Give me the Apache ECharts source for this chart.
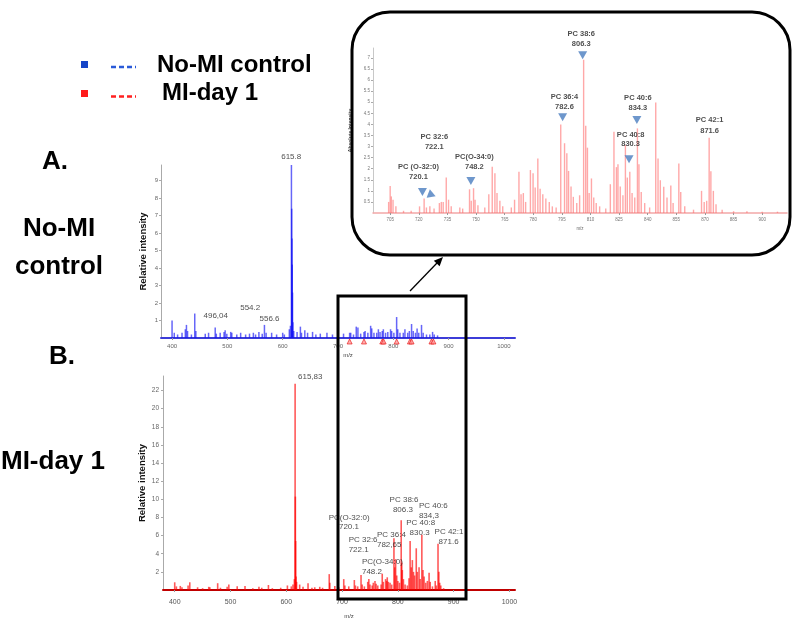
<!DOCTYPE html>
<html><head><meta charset="utf-8">
<script src="https://cdn.jsdelivr.net/npm/echarts@6/dist/echarts.min.js"></script>
<style>html,body{margin:0;padding:0;background:#fff}#c{width:800px;height:622px}</style>
</head><body><div id="c"></div>
<script>
// ---------- DATA ----------
const xTicksMain = [400, 500, 600, 700, 800, 900, 1000];
const yTicksTop = [1, 2, 3, 4, 5, 6, 7, 8, 9];
const yTicksBottom = [2, 4, 6, 8, 10, 12, 14, 16, 18, 20, 22];
const xTicksInset = [705, 720, 735, 750, 765, 780, 795, 810, 825, 840, 855, 870, 885, 900];
const yTicksInset = [0.5, 1, 1.5, 2, 2.5, 3, 3.5, 4, 4.5, 5, 5.5, 6, 6.5, 7];

// A. No-MI control spectrum [m/z, relative intensity]
const controlPeaks = [
  [400,1.0],[404,0.3],[410,0.2],[418,0.3],[424,0.5],[426,0.75],[428,0.4],[435,0.2],[441,1.4],[443,0.4],
  [460,0.25],[466,0.3],[478,0.6],[480,0.25],[487,0.3],[494,0.35],[496,0.45],[499,0.25],[506,0.35],[508,0.3],
  [517,0.2],[524,0.3],[533,0.2],[540,0.25],[547,0.3],[551,0.2],[557,0.35],[563,0.25],[567,0.75],[570,0.3],
  [580,0.3],[589,0.2],[600,0.3],[603,0.2],[612,0.5],[614,0.7],[615.8,9.9],[616.3,7.4],[616.8,5.7],[617.3,4.2],
  [617.8,2.6],[618.5,0.9],[620,0.4],[626,0.35],[632,0.65],[634,0.3],[640,0.45],[645,0.3],[654,0.35],[660,0.2],
  [668,0.25],[680,0.3],[690,0.2],[700,0.2],[710,0.25],[721,0.3],[723,0.3],[728,0.2],[733,0.65],[736,0.6],
  [741,0.25],[747,0.35],[749,0.4],[754,0.3],[759,0.7],[761,0.55],[765,0.3],[770,0.3],[773,0.5],[776,0.35],
  [780,0.4],[782,0.5],[786,0.3],[790,0.35],[795,0.5],[797,0.4],[801,0.3],[806,1.2],[808,0.5],[812,0.3],
  [818,0.3],[821,0.5],[826,0.3],[829,0.4],[833,0.8],[836,0.4],[840,0.3],[843,0.55],[846,0.3],[851,0.75],
  [854,0.3],[860,0.2],[866,0.2],[871,0.35],[874,0.2],[880,0.15]
];
const controlMarkers = [[721,-0.2],[747,-0.2],[780,-0.2],[782.5,-0.2],[806,-0.2],[830,-0.2],[833,-0.2],[869,-0.2],[872.5,-0.2]];
const controlLabels = [
  [598.2,10.36,'615.8'],[457.7,1.22,'496,04'],[524.1,1.70,'554.2'],[559.0,1.07,'556.6']
];

// B. MI-day 1 spectrum
const miPeaks = [
  [400,0.85],[403,0.4],[410,0.45],[413,0.3],[424,0.5],[427,0.85],[441,0.3],[450,0.2],[461,0.35],[463,0.3],
  [477,0.75],[482,0.25],[494,0.35],[497,0.6],[512,0.4],[526,0.45],[540,0.2],[551,0.35],[556,0.25],[568,0.55],
  [575,0.2],[590,0.25],[602,0.5],[609,0.4],[612,0.6],[614.5,1.2],[615.83,22.75],[616.3,10.3],[616.8,5.4],[617.5,1.5],
  [618.5,0.9],[624,0.6],[630,0.35],[639,0.75],[646,0.25],[651,0.3],[660,0.35],[665,0.25],[677,1.75],[678,0.8],
  [687,0.45],[694,0.3],[703,1.2],[705,0.5],[712,0.4],[722,1.1],[724,0.5],[728,0.4],[734,1.65],[736,0.6],
  [740,0.4],[746,0.9],[748,1.2],[750,0.6],[754,0.5],[756,0.8],[759,1.0],[761,0.7],[764,0.5],[770,0.6],
  [772,1.8],[774,0.9],[778,1.2],[780,1.0],[781,1.4],[783,0.9],[786,0.8],[789,0.6],[793,5.7],[794.5,2.5],
  [796,3.4],[798,1.6],[800,1.0],[803,0.8],[806,7.7],[807,3.0],[808,2.2],[810,1.2],[813,0.6],[817,0.5],
  [820,1.3],[822,5.4],[824,2.5],[826,3.3],[828,2.0],[830,1.6],[833,4.6],[835,2.0],[838,2.5],[840,1.2],
  [843,6.1],[845,2.2],[847,1.5],[850,0.8],[853,1.0],[856,1.9],[858,0.9],[862,0.4],[867,1.0],[869,0.5],
  [872,5.1],[873.5,2.0],[875,0.8],[877,0.5],[882,0.2]
];
const miLabels = [
  [621.9,23.49,'615,83'],
  [676.9,7.96,'PC(O-32:0)'],[695.3,6.86,'720.1'],
  [712.7,5.51,'PC 32:6'],[712.7,4.41,'722.1'],
  [736.5,3.01,'PC(O-34:0)'],[736.5,1.95,'748.2'],
  [763.4,6.06,'PC 36:4'],[763.4,4.96,'782,65'],
  [786.1,9.91,'PC 38:6'],[792.0,8.81,'806.3'],
  [816.0,7.34,'PC 40:8'],[821.9,6.24,'830.3'],
  [838.6,9.25,'PC 40:6'],[838.6,8.15,'834,3'],
  [866.7,6.36,'PC 42:1'],[873.9,5.26,'871.6']
];

// Inset (zoom of MI-day 1, 700-900 m/z), absolute intensity
const insetPeaks = [
  [704.2,0.5],[705,1.22],[705.6,0.75],[706.5,0.6],[708,0.3],[712,0.1],[716,0.1],
  [720.4,0.3],[722.8,0.65],[724,0.25],[725.8,0.3],[728,0.2],[730.8,0.45],[731.8,0.5],[732.8,0.5],
  [734.4,1.6],[735.6,0.6],[737,0.3],[741.5,0.25],[743,0.2],[746.6,1.07],[747.5,0.55],[748.7,1.12],
  [749.5,0.6],[751,0.35],[754.6,0.25],[756.7,0.85],[758.5,2.09],[759.9,1.8],[761,0.9],[762.5,0.55],
  [764,0.3],[768.5,0.25],[770.2,0.6],[772.5,1.86],[773.6,0.85],[774.8,0.9],[776,0.5],[778.5,1.94],
  [779.9,1.8],[781,1.15],[782.4,2.46],[783.6,1.1],[785,0.85],[786.6,0.65],[788.4,0.5],[790,0.3],
  [792,0.25],[794.4,4.0],[796.4,3.15],[797.6,2.7],[798.5,1.9],[799.8,1.2],[801,0.73],[802.8,0.45],
  [804.3,0.8],[806.4,6.92],[807.5,3.94],[808.4,2.95],[809.3,0.9],[810.5,1.56],[811.7,0.7],[813,0.45],
  [814.8,0.3],[818,0.2],[820.4,1.3],[822.3,3.67],[823.6,2.07],[824.4,2.2],[825.6,1.2],[827,0.8],
  [828.3,3.07],[829.3,1.6],[830.6,1.86],[831.8,0.9],[833.2,0.7],[834.6,3.82],[835.4,2.2],[836.6,0.95],
  [838.4,0.45],[841,0.25],[844.2,4.99],[845.4,2.46],[846.6,1.48],[848.4,1.18],[850.1,0.7],[852.1,1.24],
  [853.3,0.45],[856.3,2.24],[857.3,0.95],[859.4,0.3],[864,0.15],[868.2,1.0],[869.6,0.5],[870.9,0.55],
  [872.2,3.4],[873.1,1.88],[874.4,1.0],[875.8,0.4],[879,0.15],[885,0.08],[892,0.08],[900,0.06],[908,0.06]
];
const insetArrows = [
  [721.9,0.95,180],[725.7,0.80,130],[747.3,1.45,180],[795.4,4.32,180],[805.9,7.12,180],[830.2,2.43,180],[834.3,4.20,180]
];
const insetLabels = [
  [720.1,2.04,'PC (O-32:0)'],[720.1,1.59,'720.1'],
  [728.4,3.43,'PC 32:6'],[728.4,2.98,'722.1'],
  [749.4,2.49,'PC(O-34:0)'],[749.4,2.04,'748.2'],
  [796.6,5.23,'PC 36:4'],[796.6,4.78,'782.6'],
  [805.4,8.06,'PC 38:6'],[805.4,7.63,'806.3'],
  [835.1,5.17,'PC 40:6'],[835.1,4.71,'834.3'],
  [831.3,3.52,'PC 40:8'],[831.3,3.10,'830.3'],
  [872.7,4.16,'PC 42:1'],[872.7,3.70,'871.6']
];

// ---------- CHART ----------
const FONT = '"Liberation Sans", Arial, sans-serif';
const plain = v => String(v);
const chart = echarts.init(document.getElementById('c'), null, {renderer: 'canvas'});

function xAx(grid, min, max, ticks, opt) {
  return Object.assign({
    type: 'value', gridIndex: grid, min: min, max: max,
    splitLine: {show: false},
    axisLine: {show: true, onZero: false, lineStyle: {color: '#888', width: 1}},
    axisTick: {show: true, customValues: ticks, length: 2, lineStyle: {color: '#999'}},
    axisLabel: {customValues: ticks, formatter: plain, fontSize: 6, color: '#666', fontFamily: FONT, margin: 5},
    nameLocation: 'middle', name: 'm/z',
    nameTextStyle: {fontSize: 6, color: '#444', fontFamily: FONT}
  }, opt);
}
function yAx(grid, max, ticks, opt) {
  return Object.assign({
    type: 'value', gridIndex: grid, min: 0, max: max,
    splitLine: {show: false},
    axisLine: {show: true, lineStyle: {color: '#aaa', width: 1}},
    axisTick: {show: true, customValues: ticks, length: 2, lineStyle: {color: '#aaa'}},
    axisLabel: {customValues: ticks, formatter: plain, fontSize: 6, color: '#666', fontFamily: FONT, margin: 3},
    nameLocation: 'middle', name: 'Relative intensity',
    nameTextStyle: {fontSize: 9.5, fontWeight: 'bold', color: '#111', fontFamily: FONT}
  }, opt);
}
function barSeries(i, data, color, w) {
  return {type: 'bar', xAxisIndex: i, yAxisIndex: i, data: data, barWidth: w,
    itemStyle: {color: color}, silent: true, animation: false, barGap: '-100%'};
}
function labelSeries(i, data, style, align) {
  return {type: 'scatter', xAxisIndex: i, yAxisIndex: i, clip: false, silent: true, animation: false,
    symbolSize: 1, itemStyle: {color: 'rgba(0,0,0,0)'}, z: 20,
    data: data.map(d => ({value: [d[0], d[1]], name: d[2]})),
    label: Object.assign({show: true, formatter: '{b}', position: [0, 0], align: align,
      verticalAlign: 'middle', fontFamily: FONT}, style)};
}

const option = {
  animation: false,
  backgroundColor: '#fff',
  grid: [
    {left: 161, top: 165, width: 354, height: 173},
    {left: 163, top: 376, width: 352, height: 214},
    {left: 373, top: 48, width: 414, height: 165}
  ],
  xAxis: [
    xAx(0, 380, 1020, xTicksMain, {axisLine: {onZero: false, lineStyle: {color: '#3c3cd8', width: 2}},
      nameGap: 14, nameTextStyle: {fontSize: 6, color: '#444', fontFamily: FONT, padding: [0, 0, 0, 20]}}),
    xAx(1, 379, 1010, xTicksMain, {axisLine: {onZero: false, lineStyle: {color: '#c00000', width: 2}},
      axisLabel: {customValues: xTicksMain, formatter: plain, fontSize: 7, color: '#555', fontFamily: FONT, margin: 9},
      nameGap: 23, nameTextStyle: {fontSize: 6, color: '#444', fontFamily: FONT, padding: [0, 0, 0, 20]}}),
    xAx(2, 696, 913, xTicksInset, {axisLine: {onZero: false, lineStyle: {color: '#f2a8a8', width: 1.5}},
      axisLabel: {customValues: xTicksInset, formatter: plain, fontSize: 4.5, color: '#777', fontFamily: FONT, margin: 4},
      nameGap: 13, nameTextStyle: {fontSize: 4.5, color: '#666', fontFamily: FONT}})
  ],
  yAxis: [
    yAx(0, 9.9, yTicksTop, {nameGap: 13}),
    yAx(1, 23.6, yTicksBottom, {nameGap: 14.5,
      axisLabel: {customValues: yTicksBottom, formatter: plain, fontSize: 6.5, color: '#666', fontFamily: FONT, margin: 4}}),
    yAx(2, 7.45, yTicksInset, {name: 'Absolute Intensity', nameGap: 12,
      axisLine: {show: true, lineStyle: {color: '#c8c8c8', width: 1}},
      axisLabel: {customValues: yTicksInset, formatter: plain, fontSize: 4.5, color: '#777', fontFamily: FONT, margin: 3},
      nameTextStyle: {fontSize: 5, fontWeight: 'bold', color: '#444', fontFamily: FONT}})
  ],
  series: [
    barSeries(0, controlPeaks, 'rgba(20,20,245,0.65)', 1.5),
    {type: 'scatter', xAxisIndex: 0, yAxisIndex: 0, clip: false, silent: true, animation: false,
      data: controlMarkers, symbol: 'triangle', symbolSize: [5, 5],
      itemStyle: {color: '#ff9a9a', borderColor: '#e81010', borderWidth: 0.8}},
    labelSeries(0, controlLabels, {fontSize: 8, color: '#222'}, 'left'),
    barSeries(1, miPeaks, 'rgba(255,0,0,0.65)', 1.6),
    labelSeries(1, miLabels, {fontSize: 8, color: '#222'}, 'left'),
    barSeries(2, insetPeaks, 'rgba(255,110,110,0.6)', 1.4),
    {type: 'scatter', xAxisIndex: 2, yAxisIndex: 2, clip: false, silent: true, animation: false,
      data: insetArrows.map(d => ({value: [d[0], d[1]], symbolRotate: d[2]})),
      symbol: 'triangle', symbolSize: [9, 8], itemStyle: {color: '#4a7dbf'}, z: 15},
    labelSeries(2, insetLabels, {fontSize: 7.5, fontWeight: 'bold', color: '#222'}, 'center')
  ],
  graphic: [
    // legend
    {type: 'rect', shape: {x: 81, y: 61, width: 7, height: 7}, style: {fill: '#1645c8'}},
    {type: 'line', shape: {x1: 111, y1: 67, x2: 136, y2: 67}, style: {stroke: '#2a5ad8', lineWidth: 2.5, lineDash: [5, 3]}},
    {type: 'text', x: 157, y: 65, style: {text: 'No-MI control', font: 'bold 24px ' + FONT, fill: '#000', verticalAlign: 'middle'}},
    {type: 'rect', shape: {x: 81, y: 90, width: 7, height: 7}, style: {fill: '#ff1a1a'}},
    {type: 'line', shape: {x1: 111, y1: 96.5, x2: 136, y2: 96.5}, style: {stroke: '#ff2020', lineWidth: 2.5, lineDash: [5, 3]}},
    {type: 'text', x: 162, y: 93, style: {text: 'MI-day 1', font: 'bold 24px ' + FONT, fill: '#000', verticalAlign: 'middle'}},
    // panel titles
    {type: 'text', x: 55, y: 162, style: {text: 'A.', font: 'bold 26px ' + FONT, fill: '#000', align: 'center', verticalAlign: 'middle'}},
    {type: 'text', x: 59, y: 229, style: {text: 'No-MI', font: 'bold 26px ' + FONT, fill: '#000', align: 'center', verticalAlign: 'middle'}},
    {type: 'text', x: 59, y: 267, style: {text: 'control', font: 'bold 26px ' + FONT, fill: '#000', align: 'center', verticalAlign: 'middle'}},
    {type: 'text', x: 62, y: 357, style: {text: 'B.', font: 'bold 26px ' + FONT, fill: '#000', align: 'center', verticalAlign: 'middle'}},
    {type: 'text', x: 53, y: 462, style: {text: 'MI-day 1', font: 'bold 26px ' + FONT, fill: '#000', align: 'center', verticalAlign: 'middle'}},
    // zoom box on main spectra
    {type: 'rect', z: 50, shape: {x: 338, y: 296, width: 128, height: 303}, style: {fill: 'none', stroke: '#000', lineWidth: 3}},
    // arrow
    {type: 'line', z: 50, shape: {x1: 410, y1: 291, x2: 437, y2: 263}, style: {stroke: '#000', lineWidth: 1.3}},
    {type: 'polygon', z: 50, shape: {points: [[443, 257], [433.8, 260.7], [439.6, 266.3]]}, style: {fill: '#000'}},
    // inset frame
    {type: 'rect', z: 50, shape: {x: 352, y: 12, width: 438, height: 243, r: 38}, style: {fill: 'none', stroke: '#000', lineWidth: 3}}
  ]
};
chart.setOption(option);
</script></body></html>
